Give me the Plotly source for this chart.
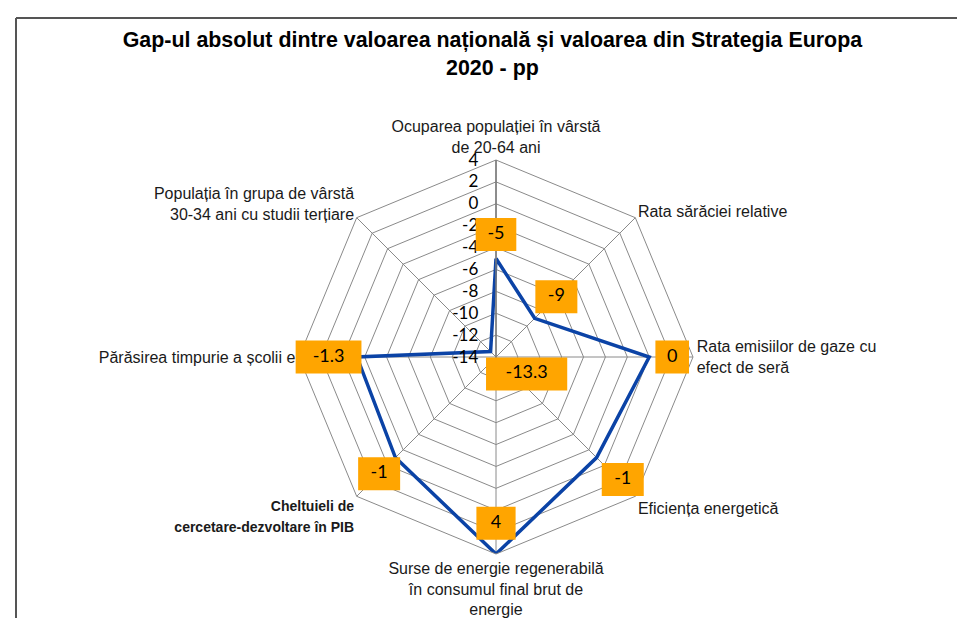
import plotly.graph_objects as go

# ---- data ----
categories = [
    "Ocuparea populației în vârstă<br>de 20-64 ani",
    "Rata sărăciei relative",
    "Rata emisiilor de gaze cu<br>efect de seră",
    "Eficiența energetică",
    "Surse de energie regenerabilă<br>în consumul final brut de<br>energie",
    "<span style=\"font-size:14px\"><b>Cheltuieli de<br>cercetare-dezvoltare în PIB</b></span>",
    "Părăsirea timpurie a școlii e",
    "Populația în grupa de vârstă<br>30-34 ani cu studii terțiare",
]
values = [-5, -9, 0, -1, 4, -1, -1.3, -13.3]
value_labels = ["-5", "-9", "0", "-1", "4", "-1", "-1.3", "-13.3"]
radial_ticks = [4, 2, 0, -2, -4, -6, -8, -10, -12, -14]

# data-label box placement (style only): distance from centre (ring units) and angle (deg, clockwise from top)
label_dist = [11.2, 7.8, 16.1, 16.1, 15.2, 15.1, 15.3, 3.2]
label_angle = [0, 45, 90, 134, 180, 225, 270, 119]
label_w = [29, 30, 24, 30, 28, 30, 47, 58]

fig = go.Figure()

fig.add_trace(go.Scatterpolar(
    r=values + [values[0]],
    theta=categories + [categories[0]],
    mode="lines",
    line=dict(color="#0B43A6", width=3.5),
    hoverinfo="skip",
    showlegend=False,
    subplot="polar",
))

# orange label boxes (overlay polar, hidden axes)
fig.add_trace(go.Scatterpolar(
    r=label_dist,
    theta=label_angle,
    mode="markers+text",
    text=value_labels,
    textposition="middle center",
    textfont=dict(family="Lato, Liberation Sans, Arial", size=18, color="#000000"),
    marker=dict(symbol="line-ew", size=label_w, color="#FFA500", opacity=1,
                line=dict(color="#FFA500", width=33)),
    opacity=1,
    hoverinfo="skip",
    showlegend=False,
    subplot="polar2",
))

cx, cy, R = 488, 349, 197
W, H = 965, 618
dom = dict(x=[(cx - R) / W, (cx + R) / W], y=[(H - cy - R) / H, (H - cy + R) / H])

fig.update_layout(
    width=W, height=H,
    margin=dict(l=0, r=0, t=0, b=0),
    paper_bgcolor="white",
    plot_bgcolor="white",
    title=dict(
        text="<b>Gap-ul absolut dintre valoarea națională și valoarea din Strategia Europa<br>2020 - pp</b>",
        x=0.502, xanchor="center", y=0.937, yanchor="top",
        font=dict(family="Liberation Sans, Arial", size=21.4, color="#000000"),
    ),
    polar=dict(
        domain=dom,
        bgcolor="white",
        gridshape="linear",
        angularaxis=dict(
            direction="clockwise", rotation=90,
            showline=True, linecolor="#8a8a8a", linewidth=1,
            gridcolor="#8a8a8a", gridwidth=1,
            ticks="",
            tickfont=dict(family="Liberation Sans, Arial", size=16, color="#1a1a1a"),
        ),
        radialaxis=dict(
            range=[-14, 4], angle=90, tickangle=90,
            tickvals=radial_ticks, ticktext=[str(v) for v in radial_ticks],
            showline=True, linecolor="#7a7a7a", linewidth=1.5,
            gridcolor="#8a8a8a", gridwidth=1,
            ticks="outside", ticklen=11, tickcolor="rgba(0,0,0,0)",
            side="counterclockwise",
            tickfont=dict(family="Lato, Liberation Sans, Arial", size=17, color="#000000"),
        ),
    ),
    polar2=dict(
        domain=dom,
        bgcolor="rgba(0,0,0,0)",
        angularaxis=dict(type="linear", thetaunit="degrees", direction="clockwise",
                         rotation=90, visible=False, showgrid=False),
        radialaxis=dict(range=[0, 18], visible=False, showgrid=False),
    ),
    shapes=[
        dict(type="line", xref="paper", yref="paper", x0=8 / W, x1=1, y0=1 - 10 / H, y1=1 - 10 / H,
             line=dict(color="#555555", width=2)),
        dict(type="line", xref="paper", yref="paper", x0=8 / W, x1=8 / W, y0=0, y1=1 - 10 / H,
             line=dict(color="#555555", width=2)),
    ],
)

fig.write_html("out.html")
